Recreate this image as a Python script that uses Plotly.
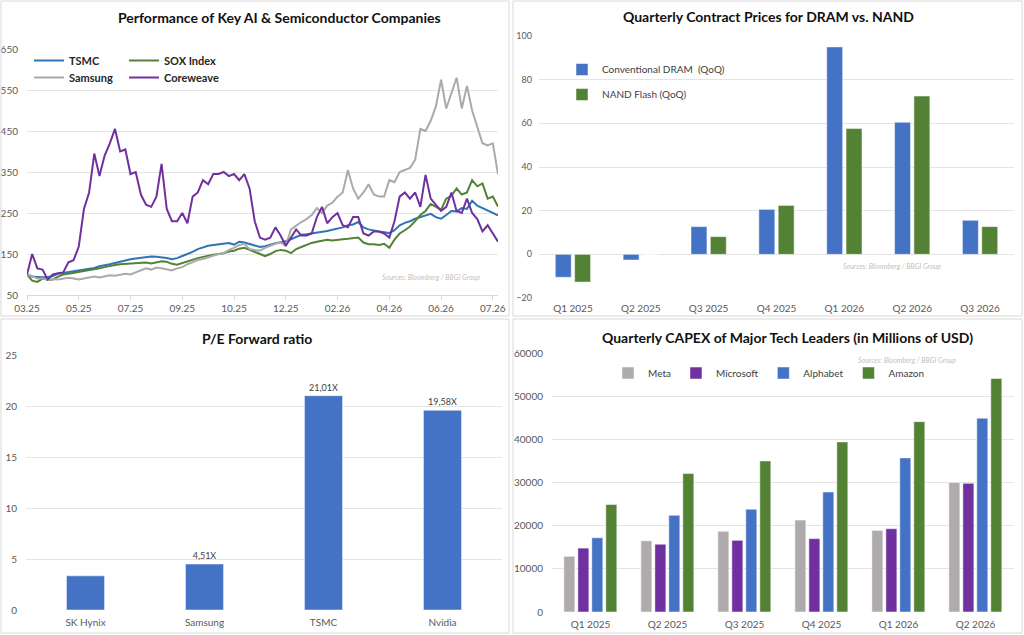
import plotly.graph_objects as go

W, H = 1024, 635

# ---- Performance of Key AI & Semiconductor Companies (rebased to 100)
perf_ticks = ['03.25', '05.25', '07.25', '09.25', '10.25', '12.25', '02.26', '04.26', '06.26', '07.26']
tsmc = [100, 95, 94, 93, 94, 96, 102, 104, 106, 108,
        110, 112, 113, 116, 120, 122, 125, 128, 131, 135,
        137, 139, 141, 142, 144, 143, 142, 140, 137, 140,
        145, 150, 155, 162, 166, 170, 172, 174, 175, 177,
        173, 180, 178, 174, 170, 167, 169, 173, 176, 179,
        181, 186, 192, 197, 198, 200, 202, 203, 206, 209,
        212, 215, 220, 222, 228, 215, 210, 207, 205, 203,
        201, 208, 220, 226, 230, 236, 240, 243, 248, 240,
        236, 245, 255, 254, 262, 260, 280, 268, 262, 256,
        252, 244]
sox = [100, 85, 82, 90, 87, 88, 95, 100, 102, 104,
       107, 108, 110, 112, 115, 118, 121, 123, 125, 126,
       127, 128, 128, 129, 127, 130, 132, 131, 126, 124,
       128, 132, 137, 140, 143, 146, 148, 150, 152, 156,
       158, 163, 165, 160, 155, 150, 145, 150, 157, 160,
       158, 152, 162, 167, 172, 177, 180, 183, 185, 183,
       185, 186, 187, 188, 190, 178, 174, 174, 172, 175,
       165, 185, 200, 208, 217, 230, 245, 255, 272, 265,
       258, 285, 292, 310, 295, 300, 330, 315, 322, 285,
       290, 266]
samsung = [100, 96, 90, 90, 88, 89, 88, 90, 92, 90,
           88, 90, 93, 95, 93, 96, 98, 97, 100, 102,
           100, 105, 110, 115, 112, 117, 115, 113, 110, 115,
           118, 125, 130, 135, 138, 142, 145, 150, 152, 160,
           165, 172, 175, 162, 160, 158, 165, 170, 175, 178,
           170, 210, 220, 228, 235, 245, 262, 250, 268, 275,
           290, 300, 355, 310, 285, 300, 320, 295, 290, 290,
           330, 325, 350, 355, 360, 380, 455, 450, 475, 510,
           575, 505, 540, 580, 505, 560, 500, 460, 420, 415,
           420, 345]
coreweave = [100, 150, 115, 112, 88, 100, 103, 105, 130, 135,
             168, 260, 300, 395, 340, 390, 420, 455, 400, 405,
             345, 350, 295, 270, 265, 290, 370, 260, 230, 230,
             250, 225, 290, 300, 330, 320, 345, 345, 350, 340,
             345, 330, 345, 310, 230, 190, 185, 190, 215, 195,
             170, 190, 210, 195, 195, 200, 240, 265, 225, 240,
             250, 220, 215, 240, 240, 200, 195, 205, 205, 200,
             190, 230, 290, 300, 285, 300, 265, 343, 285, 270,
             255, 265, 300, 255, 250, 285, 250, 235, 205, 220,
             200, 180]
perf_days = list(range(len(tsmc)))

# ---- Quarterly Contract Prices for DRAM vs. NAND (QoQ %)
price_quarters = ['Q1 2025', 'Q2 2025', 'Q3 2025', 'Q4 2025', 'Q1 2026', 'Q2 2026', 'Q3 2026']
dram = [-10.5, -2.6, 12.7, 20.6, 95, 60.5, 15.6]
nand = [-12.7, 0, 8.1, 22.4, 57.6, 72.5, 12.7]

# ---- P/E Forward ratio
pe_names = ['SK Hynix', 'Samsung', 'TSMC', 'Nvidia']
pe_values = [3.35, 4.51, 21.01, 19.58]
pe_labels = ['', '4,51X', '21,01X', '19,58X']

# ---- Quarterly CAPEX (millions of USD)
capex_quarters = ['Q1 2025', 'Q2 2025', 'Q3 2025', 'Q4 2025', 'Q1 2026', 'Q2 2026']
meta = [12900, 16500, 18700, 21300, 18900, 30000]
microsoft = [14800, 15700, 16600, 17000, 19300, 29800]
alphabet = [17200, 22400, 23800, 27800, 35700, 44900]
amazon = [24900, 32100, 35000, 39400, 44100, 54100]

BLUE = '#4472C4'
GREEN = '#548235'
PURPLE = '#7030A0'
FONT = 'Lato, Carlito, sans-serif'


def px(x):
    return x / W


def py(y):
    return 1 - y / H


fig = go.Figure()

# line chart
for name, vals, col, leg in [('TSMC', tsmc, '#2E75B6', 'legend'),
                             ('SOX Index', sox, GREEN, 'legend'),
                             ('Samsung', samsung, '#AAAAAA', 'legend2'),
                             ('Coreweave', coreweave, PURPLE, 'legend2')]:
    fig.add_trace(go.Scatter(x=perf_days, y=vals, name=name, mode='lines',
                             line=dict(color=col, width=2), legend=leg,
                             xaxis='x', yaxis='y'))

# DRAM / NAND bars (widths/offsets in category units)
fig.add_trace(go.Bar(x=price_quarters, y=dram, name='Conventional DRAM \u00a0(QoQ)',
                     width=0.235, offset=-0.26,
                     marker=dict(color=BLUE, line=dict(color='white', width=0.5)),
                     legend='legend3', legendgroup='d', xaxis='x2', yaxis='y2'))
fig.add_trace(go.Bar(x=price_quarters, y=nand, name='NAND Flash (QoQ)',
                     width=0.235, offset=0.025,
                     marker=dict(color=GREEN, line=dict(color='white', width=0.5)),
                     legend='legend3', legendgroup='n', xaxis='x2', yaxis='y2'))

# P/E bars
fig.add_trace(go.Bar(x=pe_names, y=pe_values, text=pe_labels, textposition='outside',
                     width=0.32, offset=-0.16,
                     textfont=dict(size=9, color='#404040'), cliponaxis=False,
                     marker=dict(color=BLUE, line=dict(color='white', width=0.5)),
                     showlegend=False, xaxis='x3', yaxis='y3'))

# CAPEX bars
for name, vals, col, off in [('Meta', meta, '#AFABAB', -0.346),
                             ('Microsoft', microsoft, PURPLE, -0.164),
                             ('Alphabet', alphabet, BLUE, 0.017),
                             ('Amazon', amazon, GREEN, 0.199)]:
    fig.add_trace(go.Bar(x=capex_quarters, y=vals, name=name, width=0.143, offset=off,
                         marker=dict(color=col, line=dict(color='white', width=0.5)),
                         legend='legend4', xaxis='x4', yaxis='y4'))

tick_font = dict(size=10, color='#595959', family=FONT)
grid = '#E4E4E4'

fig.update_layout(
    width=W, height=H,
    margin=dict(l=0, r=0, t=0, b=0),
    paper_bgcolor='white', plot_bgcolor='white',
    font=dict(family=FONT, color='#404040'),
    barmode='overlay',
    # top-left
    xaxis=dict(domain=[px(27), px(498)], range=[0, 91], tickvals=perf_days[::10],
               ticktext=perf_ticks, showgrid=False, zeroline=False, automargin=False,
               showline=True, linecolor='#D9D9D9', ticks='outside', ticklen=4,
               tickcolor='#D9D9D9', tickfont=tick_font),
    yaxis=dict(domain=[py(295), py(49)], range=[50, 650], tick0=50, dtick=100,
               gridcolor=grid, zeroline=False, automargin=False, tickfont=tick_font,
               ticklabelstandoff=8),
    # top-right
    xaxis2=dict(domain=[px(539), px(1014)], anchor='y2', showgrid=False,
                automargin=False, tickfont=tick_font, ticklabelstandoff=3),
    yaxis2=dict(domain=[py(298), py(36)], anchor='x2', range=[-20, 100], dtick=20,
                gridcolor=grid, zeroline=True, zerolinecolor=grid, zerolinewidth=1,
                automargin=False, ticklabelstandoff=6,
                tickfont=dict(size=9, color='#595959', family=FONT)),
    # bottom-left
    xaxis3=dict(domain=[px(26), px(502)], anchor='y3', showgrid=False,
                automargin=False, tickfont=tick_font, ticklabelstandoff=5),
    yaxis3=dict(domain=[py(610), py(355)], anchor='x3', range=[0, 25], dtick=5,
                gridcolor=grid, zeroline=False, automargin=False, tickfont=tick_font,
                ticklabelstandoff=8),
    # bottom-right
    xaxis4=dict(domain=[px(552), px(1014)], anchor='y4', showgrid=False,
                automargin=False, tickfont=tick_font, ticklabelstandoff=5),
    yaxis4=dict(domain=[py(612), py(353)], anchor='x4', range=[0, 60000], dtick=10000,
                tickformat='d', gridcolor=grid, zeroline=False, automargin=False,
                tickfont=tick_font, ticklabelstandoff=8),
    legend=dict(x=px(29), y=py(46), xanchor='left', yanchor='top', orientation='h',
                entrywidth=50, bgcolor='rgba(0,0,0,0)',
                font=dict(size=11, color='#262626', weight='bold')),
    legend2=dict(x=px(29), y=py(63), xanchor='left', yanchor='top', orientation='h',
                 entrywidth=50, bgcolor='rgba(0,0,0,0)',
                 font=dict(size=11, color='#262626', weight='bold')),
    legend3=dict(x=px(562), y=py(55), xanchor='left', yanchor='top',
                 tracegroupgap=6, bgcolor='rgba(0,0,0,0)',
                 font=dict(size=10, color='#404040')),
    legend4=dict(x=px(769), y=py(373), xanchor='center', yanchor='middle',
                 orientation='h', bgcolor='rgba(0,0,0,0)',
                 font=dict(size=10, color='#404040')),
)

titles = [
    ('Performance of Key AI & Semiconductor Companies', 279, 17),
    ('Quarterly Contract Prices for DRAM vs. NAND', 768, 16),
    ('P/E Forward ratio', 257, 338),
    ('Quarterly CAPEX of Major Tech Leaders (in Millions of USD)', 787, 337),
]
for text, x, y in titles:
    fig.add_annotation(text='<b>' + text + '</b>', x=px(x), y=py(y), xref='paper',
                       yref='paper', showarrow=False, xanchor='center', yanchor='middle',
                       font=dict(size=14, color='#111111', family=FONT))

for x, y in [(431, 277), (943, 266), (958, 360)]:
    fig.add_annotation(text='<i>Sources: Bloomberg / BBGI Group</i>', x=px(x), y=py(y),
                       xref='paper', yref='paper', showarrow=False,
                       font=dict(size=7, color='#BFBFBF', family=FONT))

# panel frames
for x0, y0, x1, y1 in [(1, 1, 509, 316), (513, 1, 1022, 316),
                       (1, 319, 509, 633), (513, 319, 1022, 633)]:
    fig.add_shape(type='rect', xref='paper', yref='paper',
                  x0=px(x0), x1=px(x1), y0=py(y1), y1=py(y0),
                  line=dict(color='#D9D9D9', width=1))

# page body has a default 8px margin; drop it so the figure sits at the top-left corner
fig.write_html('out.html', config={'displayModeBar': False},
               post_script="document.body.style.margin='0px';")
